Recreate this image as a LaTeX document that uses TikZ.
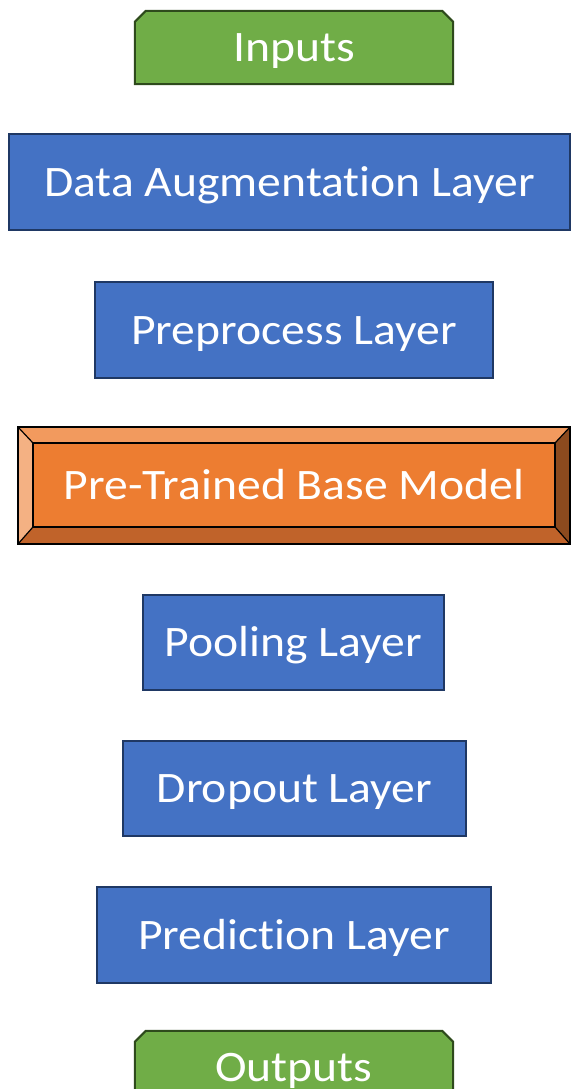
\documentclass[tikz,border=0pt]{standalone}
\usepackage{fontspec}
\setmainfont[Ligatures=NoCommon, FakeStretch=1.095]{Carlito}
\usetikzlibrary{calc}
\definecolor{layerblue}{HTML}{4472C4}
\definecolor{layerline}{HTML}{1F3864}
\definecolor{iogreen}{HTML}{70AD47}
\definecolor{ioline}{HTML}{2E4A1C}
\definecolor{baseorange}{HTML}{ED7D31}
\definecolor{baseline}{HTML}{5A2A0C}
\definecolor{bevtop}{HTML}{F29A5E}
\definecolor{bevleft}{HTML}{F4B183}
\definecolor{bevbottom}{HTML}{C0632A}
\definecolor{bevright}{HTML}{8C4A1E}
\tikzset{
  label text/.style={text=white, font=\fontsize{43.5}{50}\selectfont, inner sep=0pt,
    text height=28pt, text depth=0pt},
  layer/.style={label text, draw=layerline, fill=layerblue, line width=2pt},
  io/.style={label text, minimum width=318pt, minimum height=73pt},
  snipbox/.style={draw=ioline, fill=iogreen, line width=2pt},
  basebox/.style={label text, minimum width=552pt, minimum height=117pt}
}
\begin{document}
\begin{tikzpicture}[x=1pt, y=-1pt]
\useasboundingbox (0,0) rectangle (571,1089);
\clip (0,0) rectangle (571,1089);

% input block with snipped top corners
\node[io] (in) at (294,47.5) {};
\draw[snipbox] (in.south west) -- ($(in.north west)+(0,11)$) -- ($(in.north west)+(11,0)$)
  -- ($(in.north east)+(-11,0)$) -- ($(in.north east)+(0,11)$) -- (in.south east) -- cycle;
\node[io] at (in) {Inputs};

% plain layers
\node[layer, minimum width=561pt, minimum height=96pt] (aug) at (289.5,182) {Data Augmentation Layer};
\node[layer, minimum width=398pt, minimum height=96pt] (pre) at (294,330) {Preprocess Layer};

% bevelled base model
\node[basebox] (base) at (294,485.5) {};
\coordinate (ia) at ($(base.north west)+(15,16)$);
\coordinate (ib) at ($(base.north east)+(-15,16)$);
\coordinate (ic) at ($(base.south east)+(-15,-17)$);
\coordinate (id) at ($(base.south west)+(15,-17)$);
\fill[baseorange] (base.north west) rectangle (base.south east);
\fill[bevtop] (base.north west) -- (base.north east) -- (ib) -- (ia) -- cycle;
\fill[bevright] (base.north east) -- (base.south east) -- (ic) -- (ib) -- cycle;
\fill[bevbottom] (base.south east) -- (base.south west) -- (id) -- (ic) -- cycle;
\fill[bevleft] (base.south west) -- (base.north west) -- (ia) -- (id) -- cycle;
\draw[baseline, line width=1.2pt] (base.north west) -- (ia) (base.north east) -- (ib)
  (base.south east) -- (ic) (base.south west) -- (id);
\draw[baseline, line width=1.5pt] (ia) rectangle (ic);
\draw[baseline, line width=2pt] (base.north west) rectangle (base.south east);
\node[basebox] at (base) {Pre-Trained Base Model};

\node[layer, minimum width=301pt, minimum height=95pt] (pool) at (293.5,642.5) {Pooling Layer};
\node[layer, minimum width=343pt, minimum height=95pt] (drop) at (294.5,788.5) {Dropout Layer};
\node[layer, minimum width=394pt, minimum height=96pt] (pred) at (294,935) {Prediction Layer};

% output block with snipped top corners
\node[io] (out) at (294,1067.5) {};
\draw[snipbox] (out.south west) -- ($(out.north west)+(0,11)$) -- ($(out.north west)+(11,0)$)
  -- ($(out.north east)+(-11,0)$) -- ($(out.north east)+(0,11)$) -- (out.south east) -- cycle;
\node[io] at (out) {Outputs};
\end{tikzpicture}
\end{document}
